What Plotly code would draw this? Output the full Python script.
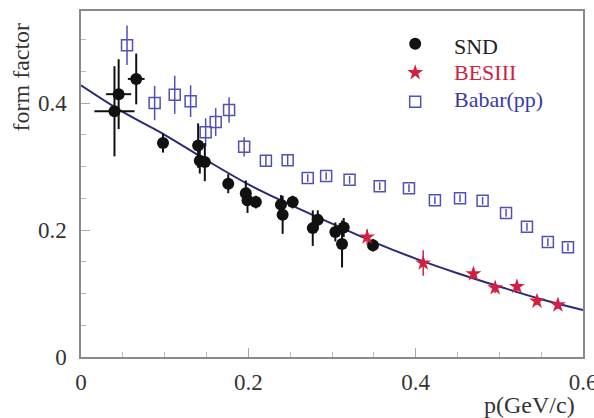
import plotly.graph_objects as go

# ---- data ----
snd_x = [0.040, 0.045, 0.066, 0.098, 0.140, 0.142, 0.148, 0.176, 0.197, 0.199,
         0.209, 0.239, 0.241, 0.253, 0.277, 0.283, 0.304, 0.312, 0.314, 0.349]
snd_y = [0.387, 0.414, 0.438, 0.337, 0.333, 0.309, 0.307, 0.273, 0.258, 0.247,
         0.244, 0.240, 0.224, 0.244, 0.203, 0.216, 0.197, 0.178, 0.204, 0.176]
snd_xerr = [0.024, 0.015, 0.010, 0, 0, 0, 0, 0, 0, 0,
            0, 0, 0, 0, 0, 0, 0, 0, 0, 0]
snd_yerr = [0.071, 0.055, 0.040, 0.015, 0.035, 0.020, 0.030, 0.015, 0.020, 0.020,
            0.010, 0.015, 0.030, 0.010, 0.028, 0.015, 0.015, 0.037, 0.015, 0.010]

bes_x = [0.342, 0.409, 0.469, 0.495, 0.521, 0.545, 0.570]
bes_y = [0.189, 0.148, 0.131, 0.109, 0.111, 0.088, 0.082]
bes_yerr = [0.012, 0.020, 0.008, 0.008, 0.008, 0.006, 0.006]

babar_x = [0.055, 0.088, 0.112, 0.131, 0.149, 0.161, 0.177, 0.195, 0.221, 0.247, 0.271,
           0.293, 0.321, 0.357, 0.392, 0.423, 0.453, 0.480, 0.508, 0.533, 0.558, 0.582]
babar_y = [0.491, 0.400, 0.413, 0.403, 0.354, 0.370, 0.389, 0.331, 0.309, 0.310, 0.282,
           0.285, 0.279, 0.269, 0.266, 0.247, 0.250, 0.246, 0.227, 0.205, 0.181, 0.173]
babar_yerr = [0.031, 0.027, 0.030, 0.025, 0.022, 0.022, 0.020, 0.015, 0.008, 0.008, 0.006,
              0.006, 0.006, 0.006, 0.006, 0.006, 0.006, 0.006, 0.006, 0.006, 0.006, 0.006]

fit_x = [0.0, 0.05, 0.10, 0.15, 0.20, 0.25, 0.30, 0.35, 0.40, 0.45, 0.50, 0.55, 0.60]
fit_y = [0.428, 0.386, 0.350, 0.310, 0.272, 0.240, 0.210, 0.181, 0.155, 0.132, 0.111, 0.091, 0.074]

x_ticks = [0, 0.2, 0.4, 0.6]
x_ticklabels = ["0", "0.2", "0.4", "0.6"]
y_ticks = [0, 0.2, 0.4]
y_ticklabels = ["0", "0.2", "0.4"]

legend_names = ["SND", "BESIII", "Babar(pp)"]
legend_colors = ["#222222", "#d42040", "#3a3aa8"]

SERIF = "Liberation Serif, Times New Roman, serif"
NAVY = "#2a2a78"
BLUE = "#5050b8"
RED = "#d42040"
BLANK = "\u00a0"

fig = go.Figure()

fig.add_trace(go.Scatter(
    x=fit_x, y=fit_y, mode="lines", line=dict(color=NAVY, width=2, shape="spline"),
    showlegend=False, hoverinfo="skip"))

fig.add_trace(go.Scatter(
    x=babar_x, y=babar_y, mode="markers", name=BLANK, legendrank=3,
    hovertext=legend_names[2], hoverinfo="x+y+text",
    marker=dict(symbol="square-open", size=11, color=BLUE, line=dict(width=1.5, color=BLUE)),
    error_y=dict(type="data", array=babar_yerr, color=BLUE, thickness=1.5, width=0)))

fig.add_trace(go.Scatter(
    x=snd_x, y=snd_y, mode="markers", name=BLANK, legendrank=1,
    hovertext=legend_names[0], hoverinfo="x+y+text",
    marker=dict(symbol="circle", size=12, color="#111111"),
    error_y=dict(type="data", array=snd_yerr, color="#111111", thickness=2, width=0),
    error_x=dict(type="data", array=snd_xerr, color="#111111", thickness=2, width=0)))

fig.add_trace(go.Scatter(
    x=bes_x, y=bes_y, mode="markers", name=BLANK, legendrank=2,
    hovertext=legend_names[1], hoverinfo="x+y+text",
    marker=dict(symbol="star", size=12, color=RED, line=dict(width=0)),
    error_y=dict(type="data", array=bes_yerr, color=RED, thickness=1.5, width=0)))

axis_common = dict(
    showline=True, linecolor="#8a8a8a", linewidth=1.5, mirror=True,
    showgrid=False, zeroline=False, ticks="inside", ticklen=9, tickwidth=1,
    tickcolor="#aaaaaa", ticklabeloverflow="allow", automargin=False,
    tickfont=dict(family=SERIF, size=23, color="#333333"),
)

fig.update_xaxes(range=[0, 0.6], tickvals=x_ticks, ticktext=x_ticklabels,
                 minor=dict(dtick=0.05, ticks="inside", ticklen=5, tickcolor="#bbbbbb"),
                 ticklabelstandoff=4, **axis_common)
fig.update_yaxes(range=[0, 0.545], tickvals=y_ticks, ticktext=y_ticklabels,
                 minor=dict(dtick=0.05, ticks="inside", ticklen=5, tickcolor="#bbbbbb"),
                 ticklabelstandoff=8, **axis_common)

fig.add_annotation(text="form factor", xref="paper", yref="paper", x=-0.12, y=0.81,
                   textangle=-90, showarrow=False, xanchor="center", yanchor="middle",
                   font=dict(family=SERIF, size=24, color="#333333"))
fig.add_annotation(text="p(GeV/c)", xref="paper", yref="paper", x=0.988, y=-0.138,
                   showarrow=False, xanchor="right", yanchor="middle",
                   font=dict(family=SERIF, size=24, color="#333333"))

# legend texts (coloured, serif) next to the legend symbols
legend_text_y = [0.896, 0.821, 0.743]
for name, color, ty in zip(legend_names, legend_colors, legend_text_y):
    fig.add_annotation(text=name, xref="paper", yref="paper", x=0.739, y=ty,
                       showarrow=False, xanchor="left", yanchor="middle",
                       font=dict(family=SERIF, size=22, color=color))

fig.update_layout(
    width=594, height=418,
    margin=dict(l=81, r=11, t=11, b=61, autoexpand=False),
    paper_bgcolor="white", plot_bgcolor="white",
    legend=dict(x=0.592, y=0.962, xanchor="left", yanchor="top",
                traceorder="normal",
                font=dict(family=SERIF, size=20), bgcolor="rgba(0,0,0,0)",
                itemwidth=64, tracegroupgap=0),
)

fig.write_html("out.html")
